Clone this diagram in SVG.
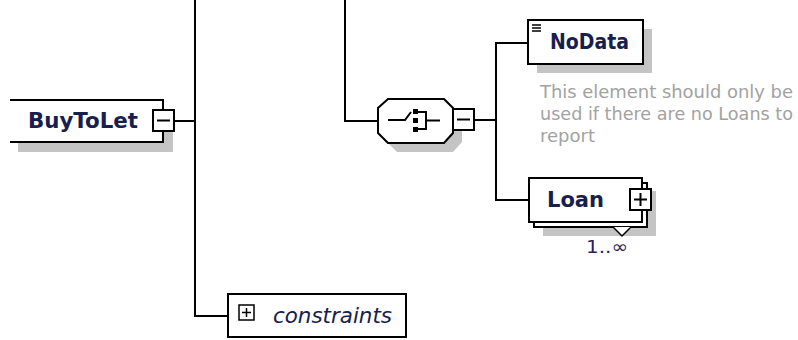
<svg xmlns="http://www.w3.org/2000/svg" width="798" height="340" viewBox="0 0 798 340">
<style>
.box{fill:#fff;stroke:#000;stroke-width:2}
.edge{fill:none;stroke:#000;stroke-width:2}
.shadow{fill:#c4c4c4;stroke:none}
.conn{fill:none;stroke:#000;stroke-width:2}
.name{font-family:"DejaVu Sans",sans-serif;font-weight:bold;font-size:21px;fill:#17204d}
.doc{font-family:"DejaVu Sans",sans-serif;font-size:18px;fill:#a2a2a2}
.occ{font-family:"DejaVu Sans",sans-serif;font-size:18px;fill:#2a1e5c}
.grp{font-family:"DejaVu Sans",sans-serif;font-style:italic;font-size:21px;fill:#17204d}
</style>
<g id="connectors">
<path class="conn" d="M195,0 V316 H228"/>
<path class="conn" d="M175,121 H195"/>
<path class="conn" d="M345,0 V121 H378"/>
<path class="conn" d="M474,120 H496"/>
<path class="conn" d="M528,43 H496 V200 H529"/>
</g>
<g id="BuyToLet">
<rect class="shadow" x="18" y="109" width="155" height="43"/>
<rect x="10" y="100" width="153" height="42" fill="#fff"/>
<path class="edge" d="M10,100 H163 V142 H10"/>
<text class="name" x="28" y="128" textLength="110" lengthAdjust="spacingAndGlyphs">BuyToLet</text>
<rect class="box" x="153" y="110" width="21" height="21"/>
<path class="edge" d="M157,120.5 H170"/>
</g>
<g id="choice">
<polygon class="shadow" points="397,108 453,108 462,117 462,142 453,152 397,152 387,142 387,117"/>
<polygon class="box" points="388,99 444,99 453,108 453,133 444,143 388,143 378,133 378,108"/>
<path class="edge" d="M388,120 H405 L411,112"/>
<rect x="413" y="109" width="5" height="5" fill="#000"/>
<rect x="413" y="118" width="5" height="5" fill="#000"/>
<rect x="413" y="127" width="5" height="5" fill="#000"/>
<path class="edge" d="M418,112 H426 V129 H418 M426,120.5 H440"/>
<rect class="box" x="453" y="109" width="21" height="21"/>
<path class="edge" d="M457,119.5 H470"/>
</g>
<g id="NoData">
<rect class="shadow" x="537" y="29" width="115" height="44"/>
<rect class="box" x="528" y="20" width="115" height="44"/>
<path d="M532,25 H541 M532,28 H541 M532,31 H541" stroke="#000" stroke-width="1.5"/>
<text class="name" x="550" y="49" textLength="79" lengthAdjust="spacingAndGlyphs">NoData</text>
<text class="doc" x="540" y="98" textLength="253" lengthAdjust="spacingAndGlyphs">This element should only be</text>
<text class="doc" x="540" y="120" textLength="253" lengthAdjust="spacingAndGlyphs">used if there are no Loans to</text>
<text class="doc" x="540" y="142">report</text>
</g>
<g id="Loan">
<rect class="shadow" x="543" y="191" width="113" height="45"/>
<rect class="box" x="534" y="183" width="113" height="44"/>
<rect class="box" x="529" y="178" width="113" height="44"/>
<polyline points="613,227 622,236 631,227" fill="#fff" stroke="#000" stroke-width="1.5"/>
<text class="name" x="547" y="207" textLength="57" lengthAdjust="spacingAndGlyphs">Loan</text>
<rect class="box" x="630" y="189" width="21" height="21"/>
<path class="edge" d="M634,199.5 H647 M640.5,193 V206"/>
<text class="occ" x="586" y="253" textLength="42" lengthAdjust="spacingAndGlyphs">1..∞</text>
</g>
<g id="constraints">
<rect class="box" x="228" y="294" width="178" height="43"/>
<rect x="239" y="305" width="15" height="15" fill="#fff" stroke="#000" stroke-width="1.5"/>
<path d="M242,312.5 H251 M246.5,308 V317" stroke="#000" stroke-width="1.5"/>
<text class="grp" x="273" y="323" textLength="119" lengthAdjust="spacingAndGlyphs">constraints</text>
</g>
</svg>
